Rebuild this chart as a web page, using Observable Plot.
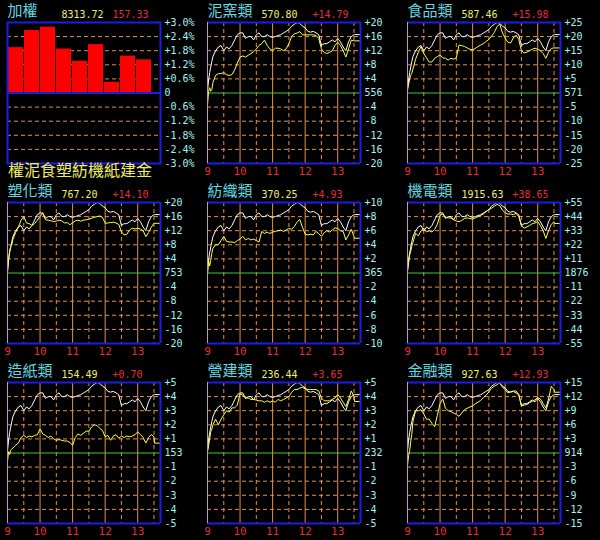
<!DOCTYPE html>
<html><head><meta charset="utf-8">
<script src="https://cdn.jsdelivr.net/npm/d3@7"></script>
<script src="https://cdn.jsdelivr.net/npm/@observablehq/plot@0.6"></script>
<style>
html,body{margin:0;padding:0;background:#000;}
#chart{position:relative;width:600px;height:540px;background:#000;overflow:hidden;}
#chart > svg{position:absolute;}
</style></head><body><div id="chart"></div>
<script>
// ---- data ----
const indexName = "加權";
const indexPrice = 8313.72;
const indexChange = 157.33;
const barCats = ["權","泥","食","塑","紡","機","紙","建","金"];
const barPct = [1.93, 2.66, 2.80, 1.87, 1.35, 2.06, 0.46, 1.57, 1.41];
const pctTicks = [-3, -2.4, -1.8, -1.2, -0.6, 0, 0.6, 1.2, 1.8, 2.4, 3];

const sectorNames = ["泥窯類","食品類","塑化類","紡織類","機電類","造紙類","營建類","金融類"];
const sectorPrice = ["570.80","587.46","767.20","370.25","1915.63","154.49","236.44","927.63"];
const sectorChange = [14.79, 15.98, 14.10, 4.93, 38.65, 0.70, 3.65, 12.93];
const sectorBase = [556, 571, 753, 365, 1876, 153, 232, 914];
const sectorRange = [20, 25, 20, 10, 55, 5, 5, 15];

const hourTickMinutes = [0, 60, 120, 180, 240];
const hourLabels = ["9", "10", "11", "12", "13"];

// minutes after 9:00
const minutes = [0,2,4,6,8,10,15,20,25,30,35,40,45,50,55,60,65,70,75,80,85,90,95,100,105,110,115,120,125,130,135,140,145,150,155,160,165,170,175,180,185,190,195,200,205,210,215,220,225,230,235,240,245,250,255,260,265,270];

// TAIEX change (points), drawn white in every panel
const taiex = [5,35,55,70,85,98, 114,124,128,114,124,119,128,143,157,162, 162,147,152,152,143,157,162,152,152,157, 152,150,152,155,157,162,166,171,180,185, 190,188,180,176,166,164,166,162,157,128, 133,133,138,143,138,147,138,124,114,138, 152,157];

const cement = [-3.5,0.5,1.5,0.5,1,3, 5,5.5,5.5,5.8,5.2,5,5.2,6.5,8.5,10.2, 10.5,10.2,10.7,11.2,11.7,12.5,13.5,14,15,13.5, 12.5,12,12.7,12.7,12.5,12,12.5,14,16,16.8, 17,17.4,16.5,16.5,16.5,16.5,16.5,16.3,15.5,12.5, 11.5,11.2,11.5,12,13.5,14.4,13.5,12,10.2,12.5, 15,14.8];
const food = [1.5,3,5,6.3,7,8.5, 12,14.5,16.5,14,12.5,11,11,12.3,12.9,13.5, 12.5,12.3,11.7,12.3,12,12.5,17,16.8,16.5,16, 15.5,15.3,15.8,16.5,17,17.5,18.3,19,20.2,21.5, 23.5,24.5,21.3,19.5,18,17.7,19.5,20.5,19,15, 14.2,14.5,15,15.5,15.9,15.5,15,14,12.3,14.5, 15.8,16];
const plastics = [0,4,6.5,7.5,8,9.5, 11.5,13,15,16,14.2,14,13.5,14,15,16, 17,15.1,15,14.8,14.6,14.7,15,14.8,14.2,14.3, 13.7,14.2,14.8,15,14.7,15,15.1,15.3,15.5,15.8, 16,16.2,15.8,14.1,14.2,14.3,14.4,14.2,13.8,11.7, 10.8,11,12.2,12.7,12.5,12.7,12.5,12,10.3,11.5, 13,14.1];
const textile = [-0.3,1.8,1,1.8,2.8,3.5, 4,4,4.6,5.2,4.5,4.4,4.4,4.3,4.6,4.8, 5.2,4.7,4.9,4.7,4.8,4.6,4.4,5.9,5.6,5.8, 5.6,5.8,5.9,6,6.1,5.9,6.1,6.3,6.2,6.6, 7.2,7.6,6.5,5.5,5.4,5.5,5.4,5.9,5.6,5.2, 5.7,6,5.8,6.1,6.4,6.3,6,5.9,4.7,5.4, 6.2,5.2];
const electric = [1,8,14,17,21,24, 31,29,33,35,32,33,32,34,38,45, 46,43.5,43,43,41.5,40.5,40,41,42.5,43, 42.5,42,43,44,45,46,48,49.5,50.5,52, 53.5,52.5,49,47,46,46,45.5,46.5,44,37, 35,36,37,38.5,39,40,37,33,27,33, 38,40];
const paper = [-0.6,0.1,-0.1,0.2,0.3,0.35, 0.55,0.7,1.1,1.25,1.1,1.2,1.15,1.25,1.3,1.7, 1.35,1.25,1.1,1.2,1.0,0.9,0.95,0.9,0.85,0.85, 0.75,0.55,1.1,1.35,1.25,1.4,1.55,1.55,1.85,2.0, 1.95,1.75,1.6,1.15,1.25,0.9,1.2,1.3,1.05,1.2, 1.1,1.2,1.15,1.2,1.3,1.5,1.3,1.1,0.7,1.1, 1.3,1.15];
const construction = [0.1,0.5,1.0,1.5,1.7,2.0, 2.4,2.0,2.4,2.7,3.0,2.9,3.2,3.2,3.4,4.2, 4.1,3.9,3.9,3.8,3.8,3.75,3.7,3.7,3.6,3.7, 3.6,3.7,3.6,3.8,3.7,3.8,3.9,4.0,4.3,4.5, 4.5,4.6,4.65,4.55,4.5,4.5,4.5,4.5,4.4,3.9, 3.7,3.7,3.7,3.8,3.9,4.15,3.9,3.6,3.3,3.8, 4.4,4.0];
const finance = [-2.7,-0.5,0.5,2.5,4,6.7, 9,9,9.2,8.3,7.2,7.2,6.3,5.6,8,10.5, 11.5,9.5,9,8.8,8.5,8.2,7.8,8.5,9.2,9.5, 9.8,10,10.5,10.8,11.2,11.8,12.3,13,13.8,14.2, 14.5,15,14,13.5,12.8,13,13.2,13.2,12.5,10, 10.2,10.3,10.7,11,11.3,11.8,11.5,10.5,9.6,11.5, 14.2,13.5];
const sectorSeries = [cement, food, plastics, textile, electric, paper, construction, finance];

// ---- style ----
const MONO = "DejaVu Sans Mono";
const CJK = "Noto Sans CJK TC";
const BLUE = "#1c1ce6", ORANGE = "#e0904a", GREEN = "#3cc83c", PINK = "#c890d0";
const YELLOW_LINE = "#ffff48", YELLOW_TXT = "#f0f068", RED_TXT = "#e03030";
const CYAN_TITLE = "#60d8e0", CYAN_TICK = "#a0f4f4";
const X_END = 282, CLOSE_T = 271;
const W = 200, H = 180;
const margins = {marginLeft: 7, marginRight: 40, marginTop: 22, marginBottom: 17};
const chart = document.getElementById("chart");

function place(svg, col, row) {
  svg.style.left = (col * W) + "px";
  svg.style.top = (row * H) + "px";
  chart.appendChild(svg);
}

function headerMarks(name, price, change) {
  return [
    Plot.text([name], {frameAnchor: "top-left", dy: -11, textAnchor: "start", lineAnchor: "middle", fill: CYAN_TITLE, fontSize: 15, fontFamily: CJK}),
    Plot.text([price], {frameAnchor: "top-left", dx: 54, dy: -8, textAnchor: "start", lineAnchor: "middle", fill: YELLOW_TXT, fontSize: 10, fontFamily: MONO}),
    Plot.text([change], {frameAnchor: "top-left", dx: 105, dy: -8, textAnchor: "start", lineAnchor: "middle", fill: RED_TXT, fontSize: 10, fontFamily: MONO})
  ];
}

// ---- panel 1: bars ----
const barData = barCats.map((c, i) => ({cat: c, pct: barPct[i]}));
const pctGrid = pctTicks.filter(d => d !== 0 && Math.abs(d) !== 3);
place(Plot.plot({
  width: W, height: H, ...margins,
  style: {background: "transparent", fontFamily: MONO, fontSize: "10px", overflow: "visible"},
  x: {type: "band", domain: barCats, range: [7.5, 151.5], paddingInner: 0.08, paddingOuter: 0.02, label: null},
  y: {domain: [-3, 3], label: null},
  marks: [
    Plot.ruleY(pctGrid, {stroke: ORANGE, strokeDasharray: "4,3"}),
    Plot.barY(barData, {x: "cat", y: "pct", fill: "#ff0000"}),
    Plot.ruleY([0], {stroke: BLUE, strokeWidth: 2}),
    Plot.frame({stroke: BLUE, strokeWidth: 2}),
    Plot.axisY(pctTicks, {anchor: "right", label: null, tickSize: 0, tickPadding: 4, color: CYAN_TICK, fontSize: 10,
      tickFormat: d => d === 0 ? "0" : (d > 0 ? "+" : "") + d.toFixed(1) + "%"}),
    Plot.axisX({anchor: "bottom", label: null, tickSize: 0, tickPadding: 1, color: YELLOW_TXT, fontSize: 16, fontFamily: CJK}),
    ...headerMarks(indexName, indexPrice.toFixed(2), indexChange.toFixed(2))
  ]
}), 0, 0);

// ---- sector panels ----
const taiexMax = d3.max(taiex);
function sectorPlot(i) {
  const R = sectorRange[i];
  const k = R / taiexMax;
  const white = minutes.map((t, j) => ({t, v: taiex[j] * k}));
  white.push({t: CLOSE_T, v: indexChange * k}, {t: X_END, v: indexChange * k});
  const ys = sectorSeries[i];
  const yellow = minutes.map((t, j) => ({t, v: ys[j]}));
  yellow.push({t: CLOSE_T, v: sectorChange[i]}, {t: X_END, v: sectorChange[i]});
  const ticks = d3.range(-5, 6).map(n => n * R / 5);
  const grid = ticks.filter(d => d !== 0 && Math.abs(d) !== R);
  const halfHours = hourTickMinutes.map(m => m + 30);
  return Plot.plot({
    width: W, height: H, ...margins,
    style: {background: "transparent", fontFamily: MONO, fontSize: "10px", overflow: "visible"},
    x: {domain: [0, X_END], label: null},
    y: {domain: [-R, R], label: null},
    marks: [
      Plot.ruleY(grid, {stroke: ORANGE, strokeDasharray: "4,3"}),
      Plot.ruleX(halfHours, {stroke: ORANGE, strokeDasharray: "4,3"}),
      Plot.ruleX(hourTickMinutes.slice(1), {stroke: ORANGE}),
      Plot.ruleY([0], {stroke: GREEN}),
      Plot.line(white, {x: "t", y: "v", stroke: "#ffffff", strokeWidth: 1}),
      Plot.line(yellow, {x: "t", y: "v", stroke: YELLOW_LINE, strokeWidth: 1}),
      Plot.ruleY([-R, R], {stroke: BLUE, strokeWidth: 2}),
      Plot.ruleX([X_END], {stroke: BLUE, strokeWidth: 2}),
      Plot.ruleX([0], {stroke: PINK}),
      Plot.axisY(ticks, {anchor: "right", label: null, tickSize: 0, tickPadding: 4, color: CYAN_TICK, fontSize: 10,
        tickFormat: d => d === 0 ? String(sectorBase[i]) : (d > 0 ? "+" : "") + d}),
      Plot.axisX(hourTickMinutes, {anchor: "bottom", label: null, tickSize: 0, tickPadding: 4, color: RED_TXT, fontSize: 11,
        tickFormat: d => hourLabels[hourTickMinutes.indexOf(d)]}),
      ...headerMarks(sectorNames[i], sectorPrice[i], "+" + sectorChange[i].toFixed(2))
    ]
  });
}
sectorNames.forEach((_, i) => {
  const p = i + 1;
  place(sectorPlot(i), p % 3, Math.floor(p / 3));
});
</script></body></html>
